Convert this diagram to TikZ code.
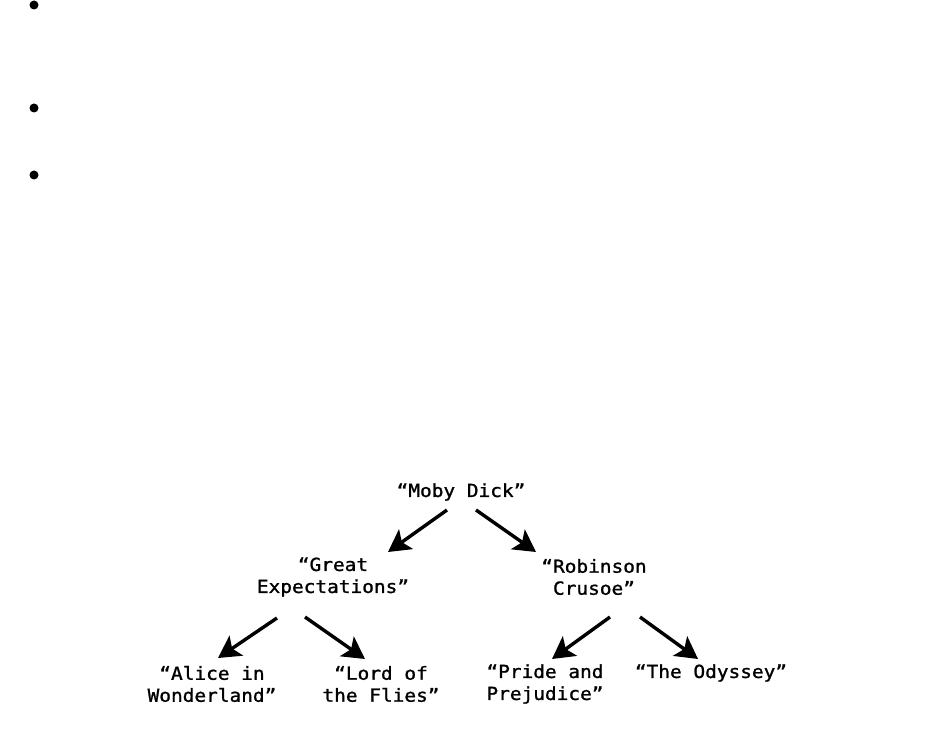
\documentclass[tikz,border=0pt]{standalone}
\usepackage{fontspec}
\setmonofont[FakeStretch=1.08, FakeBold=1.2]{DejaVu Sans Mono}
\usepackage{tikz}
\usetikzlibrary{arrows.meta}

\begin{document}
\begin{tikzpicture}[x=1pt, y=-1pt,
      book/.style={align=center, inner sep=0pt,
                   font=\ttfamily\fontsize{18}{22}\selectfont},
      link/.style={-{Stealth[length=22pt, width=24pt, inset=5pt]},
                   line width=3.4pt, draw=black},
      bullet/.style={fill=black, draw=none}]
    \useasboundingbox (0,0) rectangle (937,730);
    % bullets
    \foreach \by in {5,108,175}
      \fill[bullet] (34,\by) circle (4.5);
    % tree
    \node[book] (moby)     at (461,492) {“Moby Dick”};
    \node[book] (great)    at (333,577) {“Great\\Expectations”};
    \node[book] (robinson) at (594,577) {“Robinson\\Crusoe”};
    \node[book] (alice)    at (212,684) {“Alice in\\Wonderland”};
    \node[book] (lord)     at (381,684) {“Lord of\\the Flies”};
    \node[book] (pride)    at (545,684) {“Pride and\\Prejudice”};
    \node[book] (odyssey)  at (711,673) {“The Odyssey”};
    \draw[link] ([shift={(-14,18)}]moby.center)     -- ([shift={(55,-25)}]great.center);
    \draw[link] ([shift={(15,18)}]moby.center)      -- ([shift={(-58,-25)}]robinson.center);
    \draw[link] ([shift={(-56,41)}]great.center)    -- ([shift={(6,-26)}]alice.center);
    \draw[link] ([shift={(-28,40)}]great.center)    -- ([shift={(-16,-25)}]lord.center);
    \draw[link] ([shift={(16,40)}]robinson.center)  -- ([shift={(7,-25)}]pride.center);
    \draw[link] ([shift={(46,40)}]robinson.center)  -- ([shift={(-13,-14)}]odyssey.center);
  \end{tikzpicture}
\end{document}
